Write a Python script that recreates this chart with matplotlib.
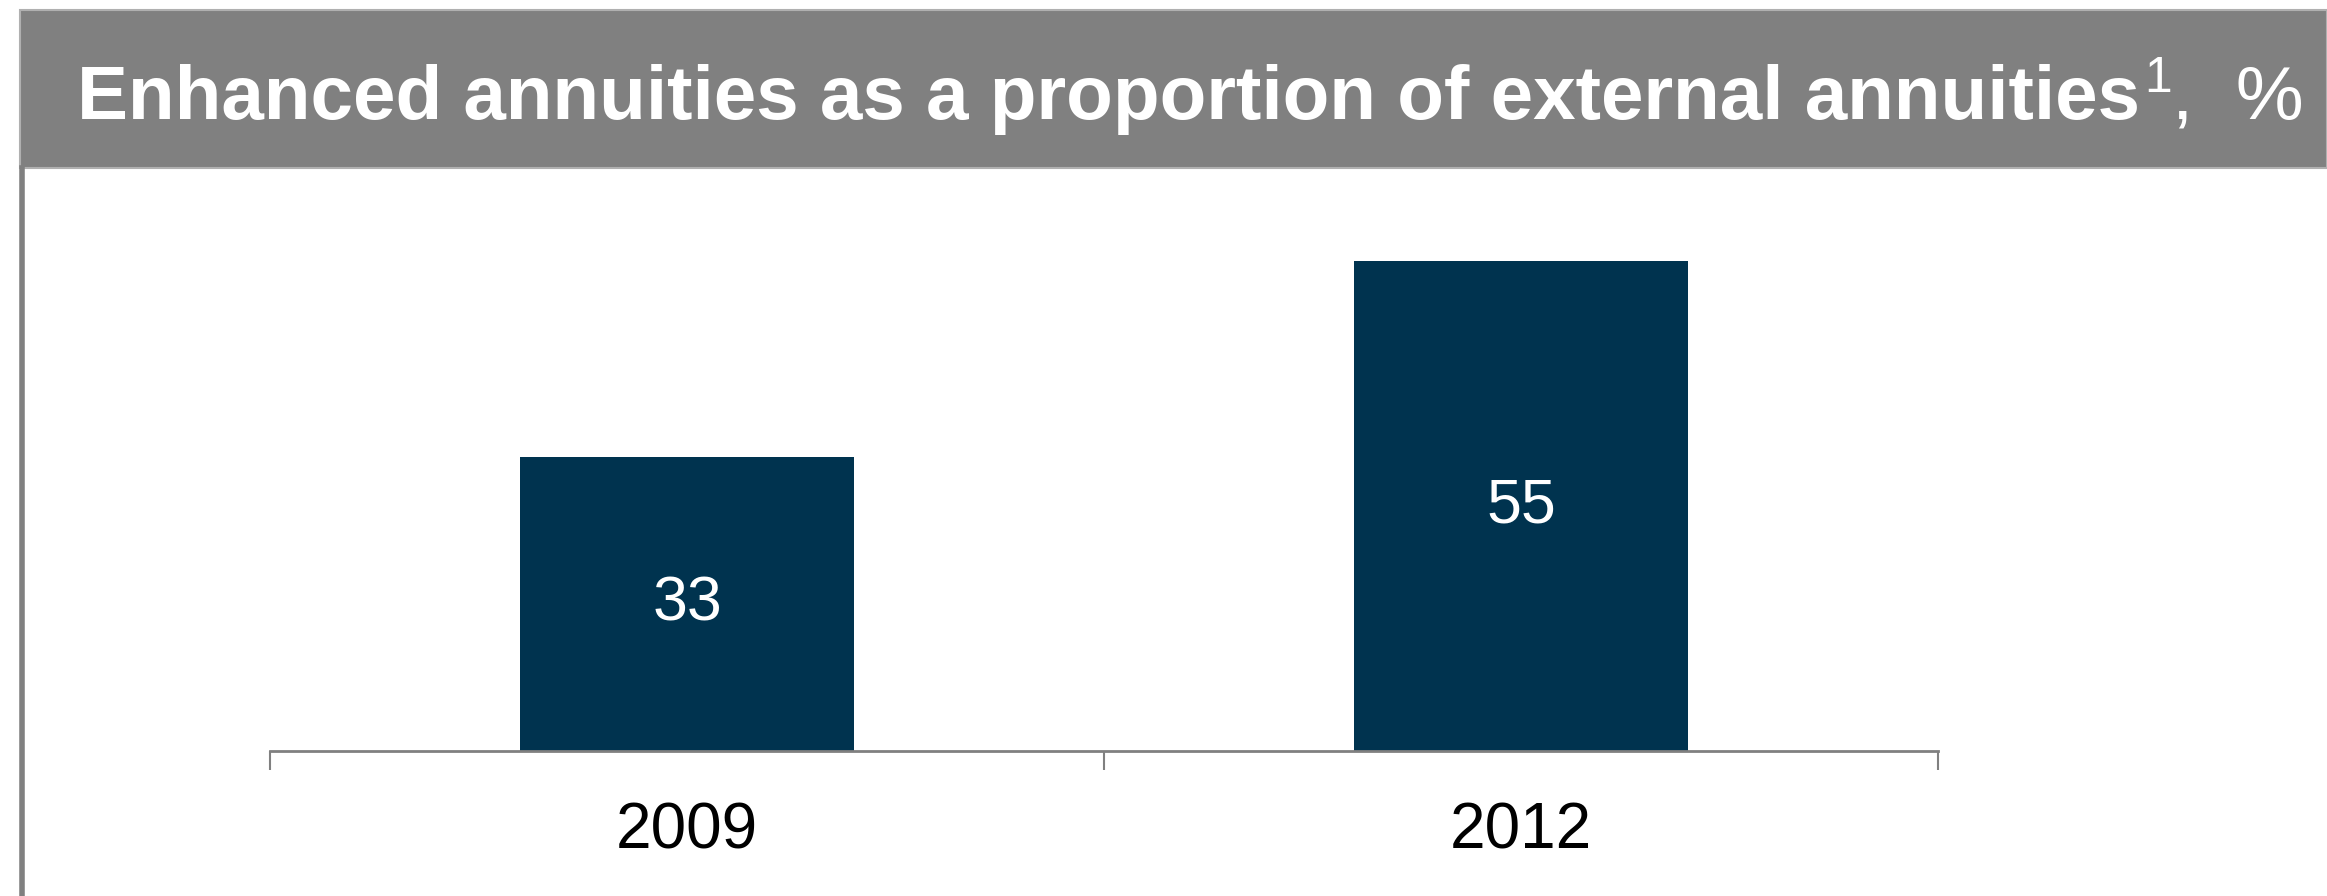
import matplotlib
matplotlib.use("Agg")
import matplotlib.pyplot as plt
from matplotlib.patches import Rectangle
from matplotlib.lines import Line2D
from matplotlib.text import Annotation

years = ["2009", "2012"]
shares = [33, 55]

title_main = "Enhanced annuities as a proportion of external annuities"
title_note = "1"
title_unit = ",  %"

plt.rcParams["font.family"] = ["Liberation Sans", "DejaVu Sans"]

W, H = 2327, 896
fig = plt.figure(figsize=(W / 100, H / 100), dpi=100)
fig.patch.set_facecolor("white")

# grey title banner and the thin frame line down the left side
fig.patches.append(Rectangle((20 / W, 1 - 168 / H), 1 - 20 / W, 158 / H,
                             transform=fig.transFigure, facecolor="#808080",
                             edgecolor="#b0b0b0", linewidth=1.5))
fig.lines.append(Line2D([22 / W, 22 / W], [0, 1 - 168 / H],
                        transform=fig.transFigure, color="#808080", linewidth=4))

# title: bold text, superscript footnote mark, then the unit in regular weight
t1 = fig.text(77 / W, 1 - 119 / H, title_main, color="white", fontsize=55,
              fontweight="bold", ha="left", va="baseline")
a2 = fig.add_artist(Annotation(title_note, xy=(1, 0), xycoords=t1, xytext=(3, 24),
                               textcoords="offset points", color="white", fontsize=36,
                               ha="left", va="bottom", annotation_clip=False, zorder=4))
a3 = fig.add_artist(Annotation(title_unit, xy=(1, 0), xycoords=a2, xytext=(0, -24),
                               textcoords="offset points", color="white", fontsize=55,
                               ha="left", va="bottom", annotation_clip=False, zorder=4))

ax = fig.add_axes([270 / W, 1 - 751 / H, (1938 - 270) / W, 534 / H])
x = range(len(years))
bars = ax.bar(x, shares, width=0.4, color="#00334F")
for b, v in zip(bars, shares):
    ax.text(b.get_x() + b.get_width() / 2, v / 2, str(v), color="white",
            fontsize=45, ha="center", va="center")

ax.set_xlim(-0.5, 1.5)
ax.set_ylim(0, 60)
ax.set_xticks(list(x))
ax.set_xticklabels(years, fontsize=46)
ax.set_xticks([-0.5, 0.5, 1.5], minor=True)
ax.tick_params(axis="x", which="major", length=0, pad=36)
ax.tick_params(axis="x", which="minor", length=14, width=1.5, color="#808080")
ax.set_yticks([])
for side in ["top", "right", "left"]:
    ax.spines[side].set_visible(False)
ax.spines["bottom"].set_color("#808080")
ax.spines["bottom"].set_linewidth(2)
ax.set_facecolor("none")

fig.savefig("out.png", dpi=100)
